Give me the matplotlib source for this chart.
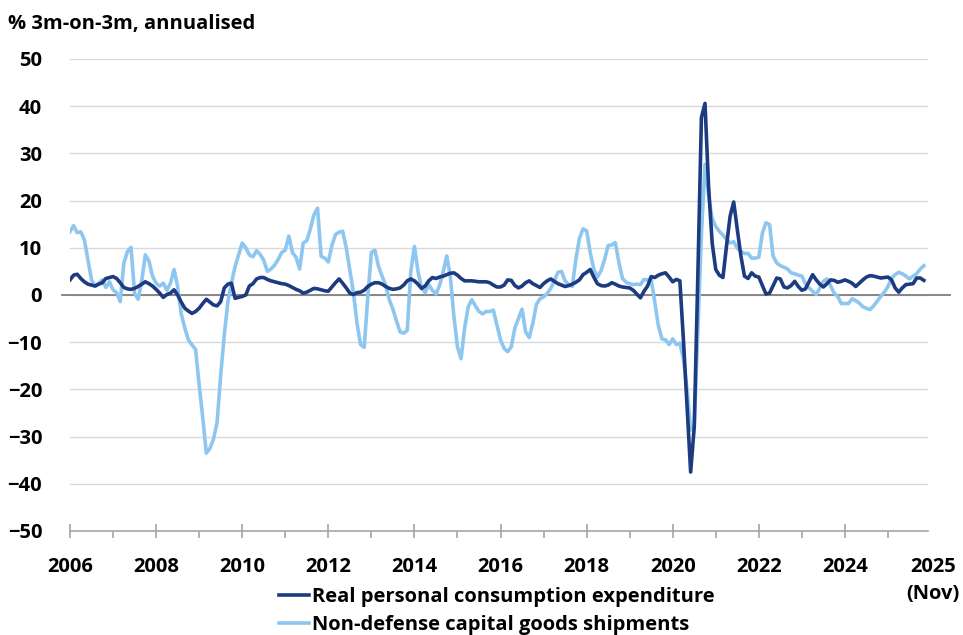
import numpy as np
import matplotlib.pyplot as plt

plt.rcParams['font.family'] = ['Open Sans', 'DejaVu Sans']

# monthly, Jan 2006 .. Nov 2025
pce = [
    3.2, 4.2, 4.4, 3.5, 2.8, 2.3, 2.1, 1.9, 2.3, 2.6, 3.5, 3.7,          # 2006
    3.9, 3.5, 2.6, 1.6, 1.3, 1.2, 1.4, 1.8, 2.3, 2.8, 2.4, 1.9,          # 2007
    1.2, 0.4, -0.5, 0.1, 0.4, 1.1, 0.0, -1.5, -2.8, -3.4, -3.9, -3.5,    # 2008
    -2.8, -1.8, -0.9, -1.5, -2.1, -2.3, -1.4, 1.5, 2.3, 2.5, -0.7, -0.5, # 2009
    -0.3, 0.0, 1.9, 2.4, 3.4, 3.7, 3.7, 3.3, 3.0, 2.8, 2.6, 2.4,         # 2010
    2.3, 2.0, 1.6, 1.2, 0.9, 0.4, 0.6, 1.0, 1.4, 1.3, 1.1, 0.9,          # 2011
    0.8, 1.7, 2.6, 3.4, 2.5, 1.5, 0.4, 0.1, 0.5, 0.6, 1.0, 1.8,          # 2012
    2.3, 2.6, 2.6, 2.3, 1.8, 1.4, 1.2, 1.3, 1.5, 2.1, 3.0, 3.4,          # 2013
    3.0, 2.3, 1.4, 1.9, 3.0, 3.7, 3.5, 3.8, 4.0, 4.3, 4.6, 4.7,          # 2014
    4.2, 3.5, 3.0, 3.0, 3.0, 2.9, 2.8, 2.8, 2.8, 2.6, 2.1, 1.7,          # 2015
    1.7, 2.1, 3.2, 3.1, 2.0, 1.5, 1.9, 2.6, 3.0, 2.4, 2.0, 1.6,          # 2016
    2.4, 3.0, 3.4, 2.9, 2.4, 2.1, 1.8, 2.0, 2.3, 2.7, 3.2, 4.3,          # 2017
    4.8, 5.4, 3.8, 2.4, 2.0, 1.9, 2.1, 2.6, 2.3, 1.9, 1.7, 1.6,          # 2018
    1.5, 1.0, 0.2, -0.6, 0.8, 1.9, 3.9, 3.7, 4.2, 4.5, 4.7, 3.8,         # 2019
    2.8, 3.3, 3.0, -9.7, -23.6, -37.5, -28.0, 4.0, 37.6, 40.6, 23.0, 11.0,  # 2020
    5.4, 4.2, 3.7, 10.4, 16.7, 19.7, 13.9, 8.3, 4.0, 3.5, 4.7, 4.0,      # 2021
    3.8, 2.0, 0.2, 0.4, 2.0, 3.6, 3.4, 1.7, 1.5, 2.0, 2.9, 1.8,          # 2022
    1.0, 1.3, 2.8, 4.3, 3.2, 2.3, 1.7, 2.4, 3.2, 3.1, 2.7, 2.9,          # 2023
    3.2, 2.9, 2.5, 1.8, 2.5, 3.2, 3.8, 4.1, 4.0, 3.8, 3.6, 3.7,          # 2024
    3.8, 3.2, 1.5, 0.6, 1.5, 2.2, 2.3, 2.4, 3.6, 3.6, 3.1,               # 2025
]

capex = [
    13.4, 14.7, 13.2, 13.4, 11.7, 7.5, 3.2, 1.9, 2.5, 3.2, 1.6, 2.8,
    1.1, 0.5, -1.4, 6.7, 9.2, 10.1, 0.4, -0.9, 3.0, 8.5, 7.2, 4.0,
    2.5, 1.9, 2.5, 1.0, 2.5, 5.4, 1.8, -4.0, -7.0, -9.5, -10.6, -11.5,
    -19.0, -26.0, -33.5, -32.5, -30.5, -27.0, -17.0, -8.5, -1.5, 2.5, 6.0, 8.5,
    11.0, 10.0, 8.5, 8.1, 9.4, 8.6, 7.4, 5.0, 5.5, 6.3, 7.5, 9.0,
    9.5, 12.5, 9.0, 8.0, 5.5, 11.0, 11.5, 14.0, 17.0, 18.4, 8.2, 7.8,
    7.0, 10.5, 12.8, 13.3, 13.5, 10.0, 5.3, 0.5, -6.0, -10.5, -11.1, -0.5,
    9.0, 9.5, 6.0, 4.0, 2.0, -1.0, -3.0, -5.5, -7.8, -8.1, -7.5, 5.0,
    10.3, 5.0, 1.5, 0.5, 2.2, 1.0, 0.2, 2.0, 4.8, 8.3, 4.0, -4.5,
    -11.0, -13.5, -7.0, -2.5, -1.0, -2.3, -3.5, -4.0, -3.5, -3.5, -3.2, -6.4,
    -9.5, -11.3, -12.0, -11.0, -7.0, -5.0, -3.0, -7.8, -9.0, -6.0, -2.0, -0.8,
    -0.4, 0.3, 1.4, 3.0, 4.8, 5.0, 3.0, 2.2, 1.8, 7.5, 12.0, 14.0,
    13.6, 9.0, 5.5, 3.8, 5.1, 7.5, 10.5, 10.6, 11.1, 6.9, 3.5, 2.7,
    2.4, 2.2, 2.3, 2.2, 3.3, 3.2, 3.3, -1.5, -6.5, -9.3, -9.5, -10.5,
    -9.3, -10.5, -10.2, -13.6, -20.0, -28.6, -28.0, -7.6, 12.8, 27.7, 21.0, 16.2,
    14.5, 13.5, 12.7, 11.8, 11.0, 11.3, 9.9, 9.3, 8.8, 8.8, 7.8, 7.8,
    8.0, 13.1, 15.3, 14.9, 8.2, 6.8, 6.2, 5.9, 5.5, 4.7, 4.5, 4.2,
    4.0, 2.4, 1.5, 0.8, 0.1, 1.5, 2.9, 3.4, 2.0, 0.4, -0.3, -1.8,
    -1.8, -1.8, -0.8, -1.2, -1.7, -2.5, -2.8, -3.1, -2.3, -1.3, -0.3, 0.6,
    1.8, 3.6, 4.3, 4.8, 4.5, 4.0, 3.4, 4.0, 4.5, 5.5, 6.2,
]

labels = ['Real personal consumption expenditure',
          'Non-defense capital goods shipments']
year_ticks = list(range(2006, 2025, 2))
year_labels = [str(y) for y in year_ticks]
minor_years = list(range(2007, 2026, 2))
last_label = '2025\n(Nov)'
y_ticks = list(range(-50, 51, 10))

dark = '#1C3B80'
light = '#8DC7F0'
grey = '#A6A6A6'
fs = 14.5

x = 2006 + np.arange(len(pce)) / 12

fig = plt.figure(figsize=(9.63, 6.35), dpi=100)
ax = fig.add_axes([70/963, 104/635, 858/963, 472/635])

l1, = ax.plot(x, pce, color=dark, lw=2.6, zorder=4)
l2, = ax.plot(x, capex, color=light, lw=2.6, zorder=3)
ax.plot([-0.009, 1.026], [0, 0], transform=ax.get_yaxis_transform(),
        color='#7F7F7F', lw=1.3, clip_on=False, zorder=2)

ax.set_xlim(2006, 2025.93)
ax.set_ylim(-50, 50)
ax.set_yticks(y_ticks)
ax.yaxis.grid(True, color='#D9D9D9', lw=1)
ax.set_axisbelow(True)

ax.set_xticks(year_ticks)
ax.set_xticklabels(year_labels)
ax.set_xticks(minor_years, minor=True)

for s in ['top', 'right', 'left']:
    ax.spines[s].set_visible(False)
ax.spines['bottom'].set_color(grey)
ax.spines['bottom'].set_linewidth(1.2)

ax.tick_params(axis='x', which='major', direction='inout', length=10,
               width=1.2, color=grey, pad=14, labelsize=fs)
ax.tick_params(axis='x', which='minor', direction='out', length=5,
               width=1.2, color=grey)
ax.tick_params(axis='y', length=0, pad=20, labelsize=fs)
for t in ax.get_xticklabels() + ax.get_yticklabels():
    t.set_fontweight('bold')

ax.annotate(last_label, xy=(2026.05, 0), xycoords=('data', 'axes fraction'),
            xytext=(0, -19), textcoords='offset points', ha='center', va='top',
            fontsize=fs, fontweight='bold', linespacing=1.45,
            annotation_clip=False)

fig.text(8/963, 1 - 24/635, '% 3m-on-3m, annualised', fontsize=fs,
         fontweight='bold', va='center', ha='left')

fig.legend([l1, l2], labels, loc='upper left', bbox_to_anchor=(279/963, 1 - 587/635),
           frameon=False, handlelength=1.5, handletextpad=0.15, labelspacing=0.38,
           borderpad=0, borderaxespad=0, prop={'size': fs, 'weight': 'bold'})

fig.savefig('out.png', dpi=100)
